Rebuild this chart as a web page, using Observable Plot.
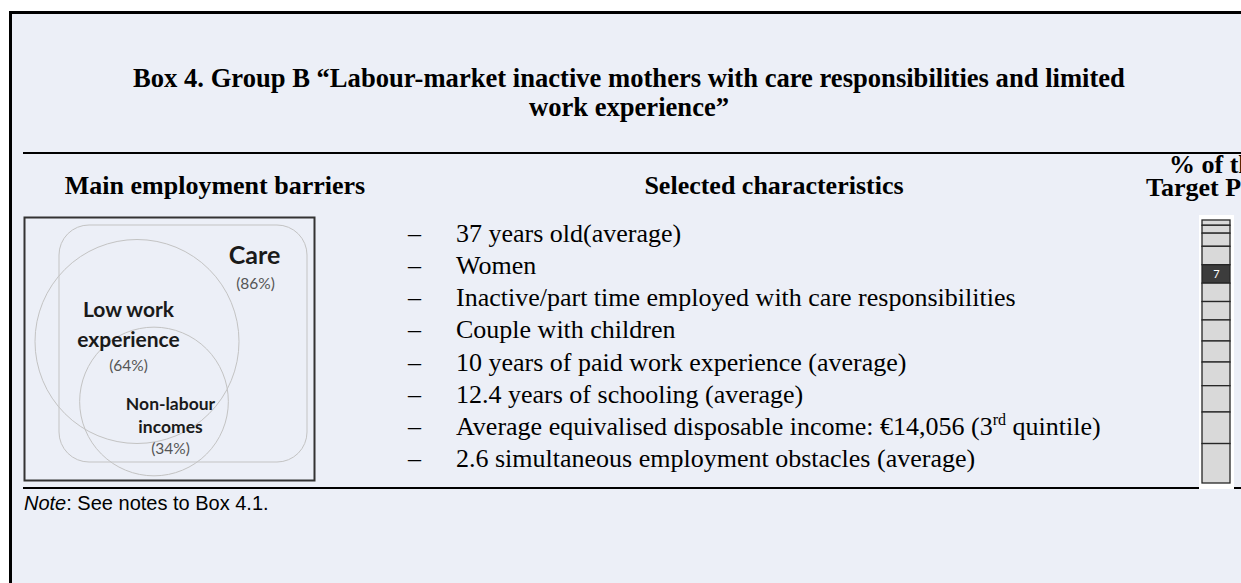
<!DOCTYPE html>
<html>
<head>
<meta charset="utf-8">
<script src="https://cdn.jsdelivr.net/npm/d3@7"></script>
<script src="https://cdn.jsdelivr.net/npm/@observablehq/plot@0.6"></script>
<style>
  html, body { margin: 0; padding: 0; width: 1241px; height: 583px; overflow: hidden; background: #fff; position: relative; }
  #frame { position: absolute; left: 9px; top: 11px; width: 1300px; height: 700px; border-left: 3px solid #000; border-top: 3px solid #000; background: #ECEFF7; box-sizing: border-box; }
  .abs { position: absolute; white-space: nowrap; }
  .serif { font-family: "Liberation Serif", "Times New Roman", serif; color: #000; }
  .title { font-weight: bold; font-size: 26.6px; line-height: 29px; text-align: center; }
  .head { font-weight: bold; font-size: 26px; line-height: 29px; }
  .head2 { font-weight: bold; font-size: 26px; line-height: 23px; }
  .rule { position: absolute; background: #000; }
  #list { font-size: 26px; line-height: 32.14px; }
  #list .dash { position: absolute; left: 0; }
  #list .txt { position: absolute; left: 48px; }
  sup { font-size: 16px; line-height: 0; vertical-align: 10px; }
  #note { font-family: "Liberation Sans", Arial, sans-serif; font-size: 20px; line-height: 23px; color: #000; }
</style>
</head>
<body>
<div id="frame"></div>
<div class="rule" style="left:23px; top:152px; width:1230px; height:2px;"></div>
<div class="rule" style="left:23px; top:487px; width:1230px; height:1.5px;"></div>
<div id="root"></div>
<script>
// ---------- data ----------
const boxTitle = ["Box 4. Group B \u201CLabour-market inactive mothers with care responsibilities and limited", "work experience\u201D"];
const columnHeads = ["Main employment barriers", "Selected characteristics", "% of the", "Target Population"];
const vennSets = ["Care", "Low work experience", "Non-labour incomes"];
const vennShares = [86, 64, 34];
const characteristics = [
  "37 years old(average)",
  "Women",
  "Inactive/part time employed with care responsibilities",
  "Couple with children",
  "10 years of paid work experience (average)",
  "12.4 years of schooling (average)",
  "Average equivalised disposable income: \u20AC14,056 (3<sup>rd</sup> quintile)",
  "2.6 simultaneous employment obstacles (average)"
];
const barGroups = ["G1", "G2", "G3", "G4", "B", "G6", "G7", "G8", "G9", "G10", "G11", "G12", "G13"];
const barShares = [2, 3, 5, 7, 7, 7, 7, 8, 8, 9, 10, 12, 15];
const highlightGroup = "B";
const noteText = "See notes to Box 4.1.";

// ---------- layout (positions, not data) ----------
const vennLayout = {
  "Care": {shape: "rect", x1: 35, x2: 283, y1: 8, y2: 245, rx: 30,
           lines: [["Care"]], nameX: 230, nameY: [46], nameSize: 25, pctX: 231, pctY: 71},
  "Low work experience": {shape: "circle", cx: 112.5, cy: 124,
           lines: [["Low work"], ["experience"]], nameX: 104, nameY: [99, 129], nameSize: 21, pctX: 104, pctY: 153},
  "Non-labour incomes": {shape: "circle", cx: 129.5, cy: 184,
           lines: [["Non-labour"], ["incomes"]], nameX: 146, nameY: [192, 215], nameSize: 17.5, pctX: 146, pctY: 236}
};

const root = document.getElementById("root");
function addDiv(cls, style, html) {
  const d = document.createElement("div");
  d.className = cls;
  d.setAttribute("style", style);
  d.innerHTML = html;
  root.appendChild(d);
  return d;
}

// title
addDiv("abs serif title", "left:0px; top:64px; width:1258px;", boxTitle.join("<br>"));
// headers
addDiv("abs serif head", "left:0px; top:171px; width:430px; text-align:center;", columnHeads[0]);
addDiv("abs serif head", "left:574px; top:171px; width:400px; text-align:center;", columnHeads[1]);
addDiv("abs serif head2", "left:1169px; top:153px;", columnHeads[2]);
addDiv("abs serif head2", "left:1146px; top:176px;", columnHeads[3]);

// characteristics list
const list = addDiv("abs serif", "left:408px; top:218px; width:760px; height:260px;", "");
list.id = "list";
characteristics.forEach((t, i) => {
  const top = i * 32.14;
  const dash = document.createElement("div");
  dash.className = "dash"; dash.style.top = top + "px"; dash.textContent = "\u2013";
  const txt = document.createElement("div");
  txt.className = "txt"; txt.style.top = top + "px"; txt.innerHTML = t;
  list.appendChild(dash); list.appendChild(txt);
});

// note
addDiv("abs", "left:24px; top:492px;", "<span id='note'><i>Note</i>: " + noteText + "</span>");

// ---------- Venn (Plot) ----------
const sets = vennSets.map((name, i) => ({name, share: vennShares[i], ...vennLayout[name]}));
const circles = sets.filter(d => d.shape === "circle");
const rects = sets.filter(d => d.shape === "rect");
const nameLabels = sets.flatMap(d => d.lines.map((l, j) => ({text: l[0], x: d.nameX, y: d.nameY[j], size: d.nameSize})));
const pctLabels = sets.map(d => ({text: `(${d.share}%)`, x: d.pctX, y: d.pctY}));
const labelFont = "Lato, 'Open Sans', sans-serif";

const vennPlot = Plot.plot({
  width: 290, height: 263, margin: 0,
  x: {domain: [0, 290], range: [0, 290], axis: null},
  y: {domain: [0, 263], range: [0, 263], axis: null},
  r: {type: "sqrt", domain: [0, 64], range: [0, 102]},
  style: {background: "transparent", overflow: "visible"},
  marks: [
    Plot.rect(rects, {x1: "x1", x2: "x2", y1: "y1", y2: "y2", rx: 30, fill: "none", stroke: "#C3C3C3", strokeWidth: 1}),
    Plot.dot(circles, {x: "cx", y: "cy", r: "share", fill: "none", stroke: "#C3C3C3", strokeWidth: 1}),
    ...[25, 21, 17.5].map(sz => Plot.text(nameLabels.filter(d => d.size === sz), {
      x: "x", y: "y", text: "text", fontSize: sz, fontWeight: "bold", fontFamily: labelFont,
      fill: "#1a1a1a", lineAnchor: "bottom", textAnchor: "middle"})),
    Plot.text(pctLabels, {x: "x", y: "y", text: "text", fontSize: 15.5, fontFamily: labelFont,
      fill: "#555", lineAnchor: "bottom", textAnchor: "middle"}),
    Plot.frame({stroke: "#333", strokeWidth: 2})
  ]
});
const vennWrap = addDiv("abs", "left:24px; top:217px;", "");
vennWrap.appendChild(vennPlot);

// ---------- stacked bar (Plot) ----------
const barData = barGroups.map((g, i) => ({group: g, share: barShares[i]}));
const barPlot = Plot.plot({
  width: 35, height: 274, marginTop: 5, marginBottom: 6, marginLeft: 3, marginRight: 4,
  x: {type: "band", domain: ["Target"], padding: 0, axis: null},
  y: {domain: [0, 100], reverse: true, axis: null},
  style: {background: "#fff"},
  marks: [
    Plot.barY(barData, {x: () => "Target", y: "share",
      fill: d => d.group === highlightGroup ? "#3C3C3C" : "#D9D9D9",
      stroke: "#262626", strokeWidth: 1.3}),
    Plot.text(barData, Plot.stackY({x: () => "Target", y: "share",
      text: d => d.group === highlightGroup ? String(d.share) : null,
      fill: "#fff", fontSize: 11, fontFamily: "Lato, sans-serif"}))
  ]
});
const barWrap = addDiv("abs", "left:1199px; top:215px;", "");
barWrap.appendChild(barPlot);
</script>
</body>
</html>
